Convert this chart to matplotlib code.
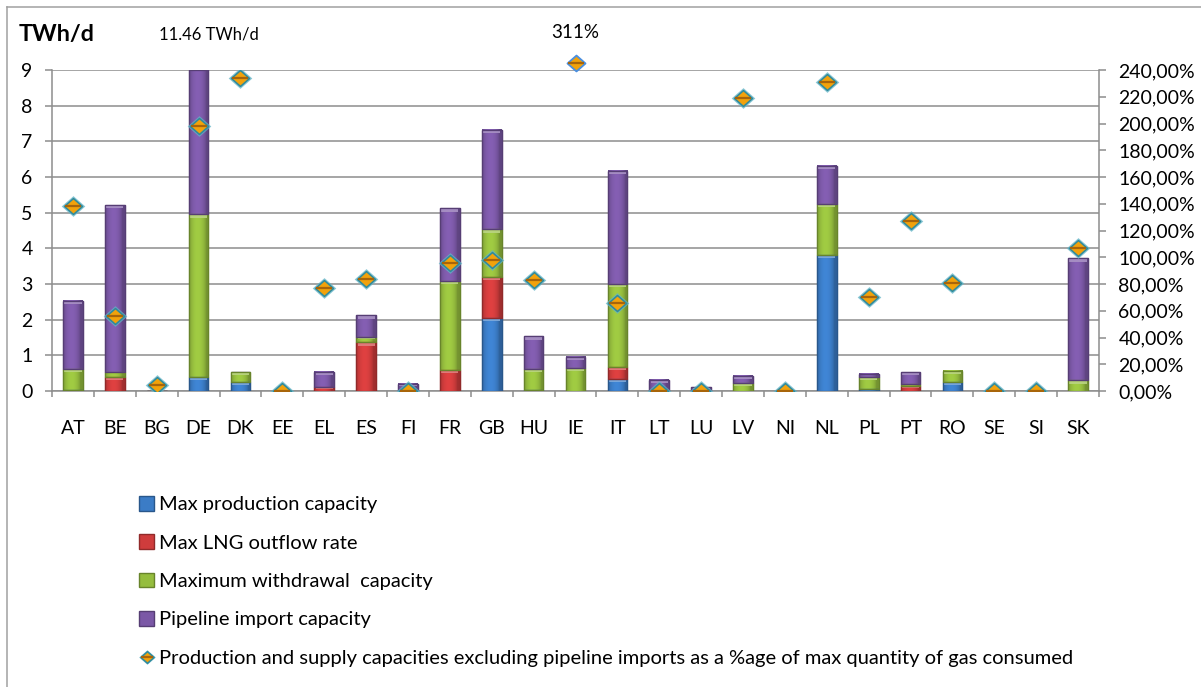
import numpy as np
import matplotlib
matplotlib.use("Agg")
import matplotlib.pyplot as plt
from matplotlib.patches import Patch, Rectangle
from matplotlib.lines import Line2D
from matplotlib.legend_handler import HandlerTuple
from matplotlib.path import Path
import matplotlib.transforms as mtransforms
import matplotlib.colors as mcolors

plt.rcParams["font.family"] = ["Lato", "DejaVu Sans"]

# ---- data -------------------------------------------------------------
countries = ["AT", "BE", "BG", "DE", "DK", "EE", "EL", "ES", "FI", "FR", "GB", "HU", "IE",
             "IT", "LT", "LU", "LV", "NI", "NL", "PL", "PT", "RO", "SE", "SI", "SK"]

# TWh/d
production = [0.03, 0.00, 0.00, 0.40, 0.26, 0.00, 0.00, 0.00, 0.00, 0.00, 2.06, 0.04, 0.00,
              0.33, 0.00, 0.00, 0.00, 0.00, 3.81, 0.07, 0.00, 0.25, 0.00, 0.00, 0.00]
lng_outflow = [0.00, 0.40, 0.00, 0.00, 0.00, 0.00, 0.10, 1.36, 0.00, 0.59, 1.13, 0.00, 0.00,
               0.34, 0.00, 0.00, 0.00, 0.00, 0.00, 0.00, 0.13, 0.00, 0.00, 0.00, 0.00]
withdrawal = [0.59, 0.14, 0.00, 4.55, 0.28, 0.00, 0.00, 0.15, 0.00, 2.49, 1.34, 0.57, 0.64,
              2.33, 0.00, 0.00, 0.22, 0.00, 1.43, 0.33, 0.08, 0.31, 0.00, 0.00, 0.30]
pipeline = [1.91, 4.67, 0.00, 6.51, 0.00, 0.00, 0.44, 0.61, 0.20, 2.04, 2.79, 0.92, 0.31,
            3.17, 0.32, 0.10, 0.20, 0.00, 1.07, 0.09, 0.32, 0.00, 0.00, 0.00, 3.42]

# supply capacities excluding pipeline imports, % of max gas consumed
share_pct = [138, 56, 4.5, 198, 234, 0, 77, 84, 0, 96, 98, 83, 311,
             66, 0, 0, 219, 0, 231, 70, 127, 81, 0, 0, 107]

series_names = ["Max production capacity", "Max LNG outflow rate",
                "Maximum withdrawal  capacity", "Pipeline import capacity"]
share_name = ("Production and supply capacities excluding pipeline imports "
              "as a %age of max quantity of gas consumed")

left_ticks = list(range(0, 10))
right_ticks = list(range(0, 241, 20))

# ---- styling ----------------------------------------------------------
W, H, DPI = 1201, 687, 100
colors = ["#3b7cc6", "#cf3c3c", "#95bd3e", "#7b58a6"]
grid_c = "#8d8d8d"
text_c = "#000000"
tick_fs = 14
leg_fs = 14.5

fig = plt.figure(figsize=(W / DPI, H / DPI), dpi=DPI)
ax = fig.add_axes([52 / W, 1 - 391 / H, (1099 - 52) / W, (391 - 70) / H])
ax2 = ax.twinx()

x = np.arange(len(countries))
bar_w = 0.47
YMAX = 9

ax.set_xlim(-0.5, len(countries) - 0.5)
ax.set_ylim(0, YMAX)
ax2.set_ylim(0, 240)

# stacked bars
bottom = np.zeros(len(countries))
segments = []
for vals, col in zip([production, lng_outflow, withdrawal, pipeline], colors):
    vals = np.asarray(vals, dtype=float)
    bars = ax.bar(x, vals, bar_w, bottom=bottom, color=col,
                  edgecolor=mcolors.to_hex(np.array(mcolors.to_rgb(col)) * 0.72),
                  linewidth=0.9, zorder=3)
    for p, v in zip(bars.patches, vals):
        if v > 0:
            segments.append((p, col))
    bottom += vals

# bevelled shading on each segment
prof = np.linspace(0, 1, 64)
shade = 0.78 + 0.30 * np.sin(np.pi * np.clip(prof * 1.15, 0, 1)) ** 0.6
for p, col in segments:
    rgb = np.array(mcolors.to_rgb(col))
    img = np.clip(rgb[None, :] * shade[:, None], 0, 1)[None, :, :]
    x0, y0 = p.get_x(), p.get_y()
    x1, y1 = x0 + p.get_width(), y0 + p.get_height()
    top = min(y1, YMAX)
    ax.imshow(img, extent=[x0, x1, y0, top], aspect="auto", zorder=3.1,
              interpolation="bilinear")
    if y1 <= YMAX:
        # lighter lip along the top edge of the segment
        lip = min(0.09, p.get_height() * 0.35)
        hl = np.clip(rgb + (1 - rgb) * 0.35, 0, 1)
        ax.add_patch(Rectangle((x0 + 0.03, y1 - lip), x1 - x0 - 0.06, lip, facecolor=hl,
                               edgecolor="none", zorder=3.2, alpha=0.9))
    ax.add_patch(Rectangle((x0, y0), x1 - x0, top - y0, facecolor="none",
                           edgecolor=mcolors.to_hex(rgb * 0.7), linewidth=0.9, zorder=3.3))
ax.set_xlim(-0.5, len(countries) - 0.5)
ax.set_ylim(0, YMAX)

# grid / axes
ax.set_yticks(left_ticks)
ax.grid(axis="y", color=grid_c, linewidth=1.1, zorder=0)
ax.set_axisbelow(True)
ax.spines["top"].set_visible(False)
ax2.spines["top"].set_visible(False)
ax2.spines["left"].set_visible(False)
ax2.spines["bottom"].set_visible(False)
for s in ["left", "bottom"]:
    ax.spines[s].set_color(grid_c)
    ax.spines[s].set_linewidth(1.1)
ax.spines["right"].set_visible(False)
ax2.spines["right"].set_color(grid_c)
ax2.spines["right"].set_linewidth(1.1)

ax.set_xticks(x)
ax.set_xticklabels(countries)
ax.set_xticks(np.arange(-0.5, len(countries)), minor=True)
ax.tick_params(axis="x", which="major", length=0, pad=21, labelsize=tick_fs, colors=text_c)
ax.tick_params(axis="x", which="minor", length=4, width=1.1, color=grid_c)
ax.tick_params(axis="y", length=5, width=1.1, color=grid_c, pad=9, labelsize=tick_fs)

ax2.set_yticks(right_ticks)
ax2.set_yticklabels([f"{v:.2f}%".replace(".", ",") for v in right_ticks])
ax2.tick_params(axis="y", length=5, width=1.1, color=grid_c, pad=9, labelsize=tick_fs)

# percentage markers
diamond = Path([(-1, 0), (0, 0.88), (1, 0), (0, -0.88), (-1, 0)],
               [Path.MOVETO, Path.LINETO, Path.LINETO, Path.LINETO, Path.CLOSEPOLY])
pct = np.asarray(share_pct, dtype=float)
inside = pct <= 240
glow_kw = dict(marker=diamond, ms=17, mfc="#62b4c6", mec="none", alpha=0.75, ls="none")
main_kw = dict(marker=diamond, ms=13, mfc="#f2a20c", mec="#2f8a9c", mew=1.1, ls="none")
band_kw = dict(marker="_", ms=12, mew=1.6, color="#a8650a", ls="none")
ax2.plot(x[inside], pct[inside], zorder=5, **glow_kw)
ax2.plot(x[inside], pct[inside], zorder=6, **main_kw)
ax2.plot(x[inside], pct[inside], zorder=7, **band_kw)

# off-scale value shown just above the plot frame
trans = mtransforms.blended_transform_factory(ax2.transData, ax2.transAxes)
for xi, v in zip(x[~inside], pct[~inside]):
    ax2.plot([xi], [1.021], transform=trans, clip_on=False, zorder=6, marker=diamond,
             ms=13, mfc="#f2a20c", mec="#4a8fe0", mew=1.3, ls="none")
    ax2.plot([xi], [1.021], transform=trans, clip_on=False, zorder=7, **band_kw)
    ax2.text(xi, 1 - 33 / H, f"{v:.0f}%",
             transform=mtransforms.blended_transform_factory(ax2.transData, fig.transFigure),
             ha="center", va="center", fontsize=13.5, color=text_c)

# off-scale total for the clipped bar
totals = bottom
big = int(np.argmax(totals))
fig.text(159 / W, 1 - 34 / H, f"{totals[big]:.2f} TWh/d", ha="left", va="center",
         fontsize=12, color=text_c)

# unit label
fig.text(19 / W, 1 - 34 / H, "TWh/d", ha="left", va="center", fontsize=16.8,
         fontweight="bold", color=text_c)

# chart frame (left and top edges)
fig.add_artist(Line2D([7 / W, 7 / W], [0, 1 - 7 / H], color="#a0a0a0", lw=1.1))
fig.add_artist(Line2D([7 / W, 1], [1 - 7 / H, 1 - 7 / H], color="#a0a0a0", lw=1.1))

# legend
handles = [Patch(facecolor=c, edgecolor=mcolors.to_hex(np.array(mcolors.to_rgb(c)) * 0.7))
           for c in colors]
share_handle = (Line2D([], [], **{**glow_kw, "ms": 12}),
                Line2D([], [], **{**main_kw, "ms": 9.5}),
                Line2D([], [], **{**band_kw, "ms": 8.5}))
handles.append(share_handle)
leg = fig.legend(handles, series_names + [share_name], loc="upper left",
                 bbox_to_anchor=(139 / W, 1 - 496 / H), frameon=False,
                 fontsize=leg_fs, handlelength=0.75, handleheight=0.75, handletextpad=0.22,
                 labelspacing=1.04, borderpad=0, borderaxespad=0,
                 handler_map={tuple: HandlerTuple(ndivide=1, pad=0)})

fig.savefig("out.png", dpi=DPI)
